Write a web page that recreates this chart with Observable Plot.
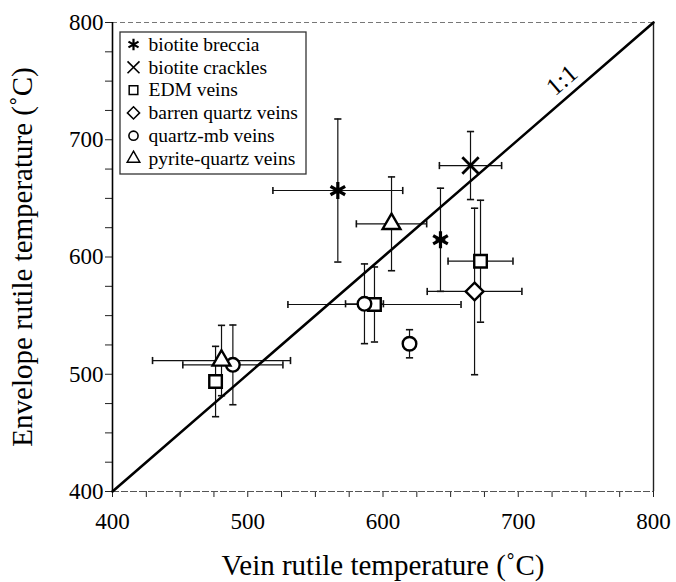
<!DOCTYPE html>
<html><head><meta charset="utf-8">
<script src="https://cdn.jsdelivr.net/npm/d3@7"></script>
<script src="https://cdn.jsdelivr.net/npm/@observablehq/plot@0.6"></script>
<style>
  body { margin: 0; background: #fff; }
  #chart { width: 676px; height: 582px; }
  #chart svg, #chart svg text { font-family: "Liberation Serif", "Times New Roman", serif !important; }
</style>
</head><body><div id="chart"></div>
<script>
// ---------- data ----------
const categories = ["biotite breccia", "biotite crackles", "EDM veins", "barren quartz veins", "quartz-mb veins", "pyrite-quartz veins"];
const symbolNames = ["asterisk", "times", "square2", "diamond2", "circle", "triangle2"];
const group   = [0,     0,     1,     2,     2,     2,     3,     4,     4,     4,     5,     5];
const veinT   = [566.6, 642.5, 664.7, 672.1, 593.7, 476.2, 667.7, 586.3, 619.6, 489.0, 606.3, 480.6];
const envT    = [656.7, 614.7, 678.0, 596.4, 559.5, 493.8, 570.6, 560.1, 526.0, 508.0, 628.3, 511.7];
const veinErr = [48,    3,     23,    24,    64,    0,     35,    14,    3,     37,    26,    51];
const envErr  = [61,    44,    29,    52,    32,    30,    71,    34,    12,    34,    40,    30];
const domain = [400, 800];
const majorTicks = [400, 500, 600, 700, 800];
const minorTicks = [425, 450, 475, 525, 550, 575, 625, 650, 675, 725, 750, 775];
const oneToOne = [400, 800];
const oneToOneLabel = "1:1";
const oneToOneLabelAt = 744;
const xTitle = "Vein rutile temperature (\u02DAC)";
const yTitle = "Envelope rutile temperature (\u02DAC)";

// ---------- styles ----------
const FONT = "'Liberation Serif', 'Times New Roman', serif";
const markerStyle = {
  asterisk:  {r: 8,   strokeWidth: 3.2, fill: "none"},
  times:     {r: 7.5, strokeWidth: 2.8, fill: "none"},
  square2:   {r: 8,   strokeWidth: 2.4, fill: "white"},
  diamond2:  {r: 8,   strokeWidth: 2.4, fill: "white"},
  circle:    {r: 6.8, strokeWidth: 2.4, fill: "white"},
  triangle2: {r: 8.5, strokeWidth: 2.4, fill: "white"}
};
const legendStyle = {
  asterisk:  {r: 5.5, strokeWidth: 2.2},
  times:     {r: 5.5, strokeWidth: 1.6},
  square2:   {r: 5.5, strokeWidth: 1.5},
  diamond2:  {r: 5.5, strokeWidth: 1.5},
  circle:    {r: 4.6, strokeWidth: 1.6},
  triangle2: {r: 6,   strokeWidth: 1.5}
};
const hcap = {draw(ctx, size) { const r = Math.sqrt(size / Math.PI); ctx.moveTo(-r, 0); ctx.lineTo(r, 0); }};
const vcap = {draw(ctx, size) { const r = Math.sqrt(size / Math.PI); ctx.moveTo(0, -r); ctx.lineTo(0, r); }};

const rows = group.map((g, i) => ({g, x: veinT[i], y: envT[i], ex: veinErr[i], ey: envErr[i]}));
const vBars = rows.filter(d => d.ey > 0);
const hBars = rows.filter(d => d.ex > 0);
const vCaps = vBars.flatMap(d => [{x: d.x, y: d.y - d.ey}, {x: d.x, y: d.y + d.ey}]);
const hCaps = hBars.flatMap(d => [{x: d.x - d.ex, y: d.y}, {x: d.x + d.ex, y: d.y}]);
const allTicks = [...majorTicks, ...minorTicks].sort((a, b) => a - b);
const fmt = d => majorTicks.includes(d) ? String(d) : "";

const legendTop = 22, legendStep = 22.8;

const plot = Plot.plot({
  width: 676,
  height: 582,
  marginLeft: 112,
  marginRight: 23,
  marginTop: 22,
  marginBottom: 91,
  style: {fontFamily: FONT, color: "#000", background: "white"},
  x: {domain, ticks: allTicks},
  y: {domain, ticks: allTicks},
  marks: [
    Plot.axisX({ticks: allTicks, tickFormat: fmt, tickSize: 6, tickPadding: 15, fontSize: 23, fontFamily: FONT, label: null, stroke: "#222"}),
    Plot.axisY({ticks: allTicks, tickFormat: fmt, tickSize: 7, tickPadding: 2, fontSize: 23, fontFamily: FONT, label: null, stroke: "#222"}),
    // frame
    Plot.ruleY([domain[0]], {stroke: "#555", strokeWidth: 1.2, strokeDasharray: "7,2"}),
    Plot.ruleY([domain[1]], {stroke: "#777", strokeWidth: 1, strokeDasharray: "5,3"}),
    Plot.ruleX([domain[0]], {stroke: "#000", strokeWidth: 1.6}),
    Plot.ruleX([domain[1]], {stroke: "#222", strokeWidth: 1.4}),
    // error bars
    Plot.ruleX(vBars, {x: "x", y1: d => d.y - d.ey, y2: d => d.y + d.ey, stroke: "#111", strokeWidth: 1.2}),
    Plot.ruleY(hBars, {y: "y", x1: d => d.x - d.ex, x2: d => d.x + d.ex, stroke: "#111", strokeWidth: 1.2}),
    Plot.dot(vCaps, {x: "x", y: "y", symbol: hcap, r: 3.6, stroke: "#111", strokeWidth: 1.6, fill: "none"}),
    Plot.dot(hCaps, {x: "x", y: "y", symbol: vcap, r: 3.6, stroke: "#111", strokeWidth: 1.6, fill: "none"}),
    // 1:1 line
    Plot.line(oneToOne.map(v => [v, v]), {stroke: "#000", strokeWidth: 2.6}),
    Plot.text([oneToOneLabel], {x: () => oneToOneLabelAt, y: () => oneToOneLabelAt, text: d => d, rotate: -40.9, dx: -16, dy: -8, fontSize: 25, fontFamily: FONT, fill: "#000"}),
    // markers
    ...categories.map((c, gi) => {
      const s = symbolNames[gi], st = markerStyle[s];
      return Plot.dot(rows.filter(d => d.g === gi), {x: "x", y: "y", symbol: s, r: st.r, stroke: "#000", strokeWidth: st.strokeWidth, fill: st.fill});
    }),
    // legend box
    (index, scales, values, dims) => {
      const r = d3.create("svg:rect")
        .attr("x", dims.marginLeft + 8).attr("y", dims.marginTop + 10)
        .attr("width", 186).attr("height", 142)
        .attr("fill", "white").attr("stroke", "#333").attr("stroke-width", 1.3);
      return r.node();
    },
    ...categories.map((c, gi) => {
      const s = symbolNames[gi], st = legendStyle[s];
      return Plot.dot([c], {frameAnchor: "top-left", dx: 21, dy: legendTop + legendStep * gi, symbol: s, r: st.r, stroke: "#000", strokeWidth: st.strokeWidth, fill: "none"});
    }),
    ...categories.map((c, gi) => Plot.text([c], {frameAnchor: "top-left", text: d => d, dx: 36, dy: legendTop + legendStep * gi, textAnchor: "start", lineAnchor: "middle", fontSize: 19.5, fontFamily: FONT, fill: "#000"})),
    // axis titles
    Plot.text([xTitle], {frameAnchor: "bottom", text: d => d, dy: 74, textAnchor: "middle", lineAnchor: "middle", fontSize: 29, fontFamily: FONT, fill: "#000"}),
    Plot.text([yTitle], {frameAnchor: "left", text: d => d, dx: -90, rotate: -90, textAnchor: "middle", lineAnchor: "middle", fontSize: 29, fontFamily: FONT, fill: "#000"})
  ]
});
document.getElementById("chart").appendChild(plot);
</script>
</body></html>
